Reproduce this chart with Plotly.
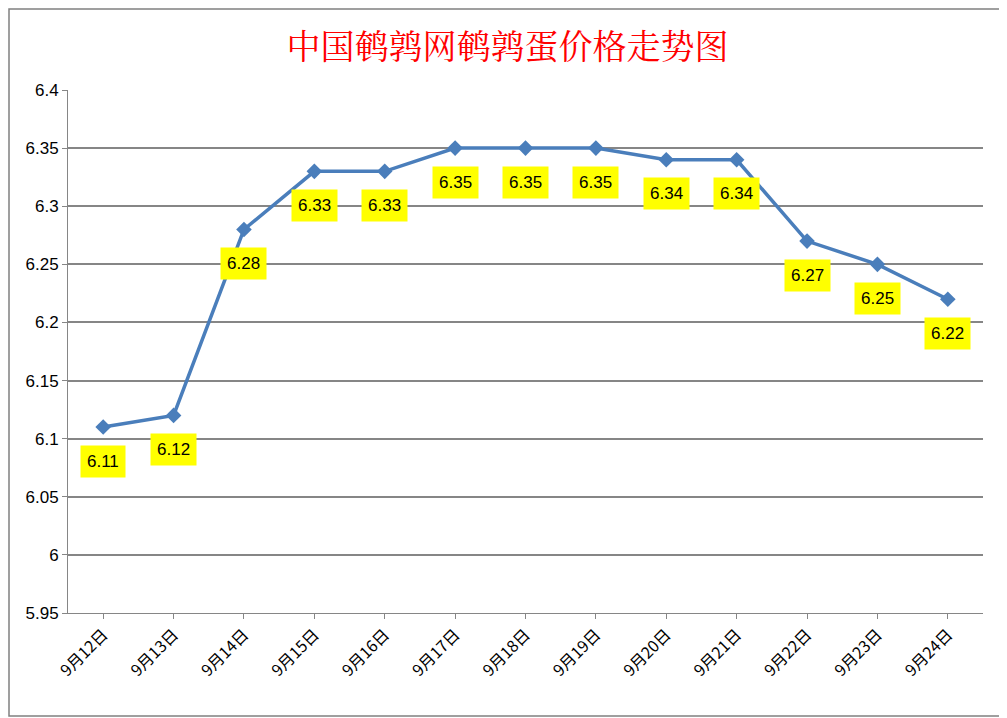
import plotly.graph_objects as go

dates = ["9月12日","9月13日","9月14日","9月15日","9月16日","9月17日","9月18日","9月19日","9月20日","9月21日","9月22日","9月23日","9月24日"]
prices = [6.11,6.12,6.28,6.33,6.33,6.35,6.35,6.35,6.34,6.34,6.27,6.25,6.22]
yticks = [5.95,6,6.05,6.1,6.15,6.2,6.25,6.3,6.35,6.4]
title = "中国鹌鹑网鹌鹑蛋价格走势图"

fig = go.Figure(go.Scatter(x=dates, y=prices, mode="lines+markers",
    line=dict(color="#4a7ebb", width=3.5),
    marker=dict(symbol="diamond", size=12, color="#4a7ebb")))

for d, p in zip(dates, prices):
    fig.add_annotation(x=d, y=p, text=f"{p:.2f}", showarrow=False, yshift=-34,
        bgcolor="#ffff00", font=dict(size=17, color="black", family="Liberation Sans"),
        borderpad=6)

fig.add_shape(type="rect", xref="paper", yref="paper", x0=-59/915, x1=1+22/915,
    y0=-103/523, y1=1+81/523, line=dict(color="#808080", width=1.5))

fig.update_layout(
    width=999, height=710, margin=dict(l=60, r=24, t=82, b=105),
    paper_bgcolor="white", plot_bgcolor="white", showlegend=False,
    title=dict(text=title, x=0.5, y=0.945, xanchor="center", yanchor="middle",
               font=dict(size=34, color="#ff0000", family="Noto Serif CJK SC, Noto Sans CJK SC")),
    xaxis=dict(type="category", range=[-0.5, 12.5], tickangle=-45, showgrid=False,
               showline=True, linecolor="#868686", linewidth=1, ticks="outside",
               tickcolor="#868686", tickfont=dict(size=16, color="black", family="Noto Sans CJK SC")),
    yaxis=dict(range=[5.95, 6.4], tickvals=yticks, ticktext=[f"{v:g}" for v in yticks],
               showgrid=True, gridcolor="#868686", gridwidth=1.5, showline=True,
               linecolor="#868686", ticks="outside", tickcolor="#868686",
               tickfont=dict(size=17, color="black", family="Liberation Sans")),
)
fig.write_html("out.html")
